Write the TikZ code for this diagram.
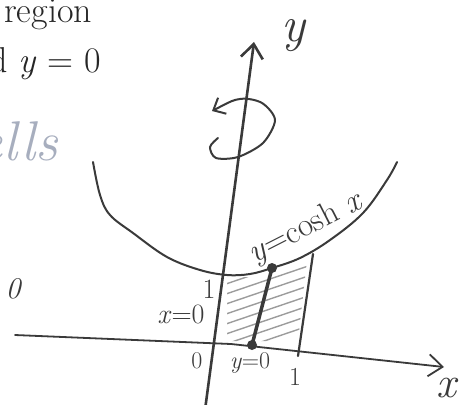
\documentclass[tikz,border=0pt]{standalone}
\usepackage{tikz}
\usetikzlibrary{arrows.meta,calc}
\definecolor{pencil}{HTML}{3A3A3A}
\definecolor{faintpen}{HTML}{9C9C9C}
\definecolor{bluepen}{HTML}{A7AEBE}
\tikzset{
    axisline/.style={draw=pencil, line width=2.6pt, line cap=round},
    curveline/.style={draw=pencil, line width=2pt, line cap=round},
    hatchline/.style={draw=faintpen, line width=1.4pt, line cap=round},
    barb/.style={-{Straight Barb[length=14pt, width=22pt]}},
    handlabel/.style={text=pencil, inner sep=0pt},
    printtext/.style={text=black!85, inner sep=0pt, font=\fontsize{36}{43}\selectfont},
    dotmark/.style={circle, fill=pencil, inner sep=0pt, minimum size=10pt}
}

\begin{document}
\begin{tikzpicture}[x=1pt, y=-1pt]
\useasboundingbox (0,0) rectangle (462,404);
\clip (0,0) rectangle (462,404);
% printed page text
\node[printtext, anchor=base west] (regiontxt) at (4,23) {region};
\node[printtext, anchor=base east] (andtxt) at (101,72) {and \textit{y} = 0};
\node[anchor=base east, inner sep=0pt, text=bluepen, font=\fontsize{56}{56}\selectfont\itshape] (shells) at (58,160) {ells};
% hatched strip
\begin{scope}
\clip (227,277) -- (250,277) -- (272,272) -- (307,260) -- (298,341) -- (227,341) -- cycle;
\foreach \k in {0,...,7}
    \draw[hatchline] (220,286+10*\k) -- ++(100,-34);
\end{scope}
% axes
\coordinate (ybase) at (205,410);
\coordinate (ytip) at (254,42);
\coordinate (xbase) at (15,335);
\coordinate (xbend) at (231,344);
\coordinate (xtip) at (444,367);
\draw[axisline, barb] (ybase) -- (ytip);
\draw[axisline, line width=1.8pt, barb] (xbase) -- (xbend) -- (xtip);
% y = cosh x
\draw[curveline] plot[smooth, tension=0.6] coordinates {(93,162) (100,195) (110,215) (133,233) (167,257) (200,270) (227,275) (250,274) (272,268) (300,258) (330,240) (363,213) (387,180) (397,162)};
% x = 1
\coordinate (onetop) at (313,254);
\coordinate (onefoot) at (298,356);
\draw[curveline, line width=2.2pt] (onetop) -- (onefoot);
% shell height
\node[dotmark] (top) at (272,268) {};
\node[dotmark] (foot) at (252,345) {};
\draw[pencil, line width=3.5pt] (top.center) -- (foot.center);
% rotation about the y axis
\draw[curveline, {Straight Barb[length=10pt, width=18pt]}-] plot[smooth] coordinates {(212,111) (240,99) (262,103) (275,120) (263,143) (238,157) (216,158) (210,147) (218,138)};
% labels
\node[handlabel, font=\fontsize{50}{50}\selectfont\itshape] (ylab) at (293,36) {y};
\node[handlabel, font=\fontsize{44}{44}\selectfont\itshape] (xlab) at (446,388) {x};
\node[handlabel, font=\fontsize{33}{33}\selectfont, rotate=27] (coshlab) at (306,228) {\textit{y}=cosh \textit{x}};
\node[handlabel, font=\fontsize{28}{28}\selectfont] (onelab) at (209,289) {1};
\node[handlabel, font=\fontsize{28}{28}\selectfont] (xzero) at (181,314) {\textit{x}=0};
\node[handlabel, font=\fontsize{24}{24}\selectfont] (origin) at (197,361) {0};
\node[handlabel, font=\fontsize{24}{24}\selectfont] (yzero) at (250,363) {\textit{y}=0};
\node[handlabel, font=\fontsize{26}{26}\selectfont] (onex) at (295,377) {1};
\node[handlabel, font=\fontsize{30}{30}\selectfont\itshape] (leftzero) at (13,289) {0};
\end{tikzpicture}
\end{document}
